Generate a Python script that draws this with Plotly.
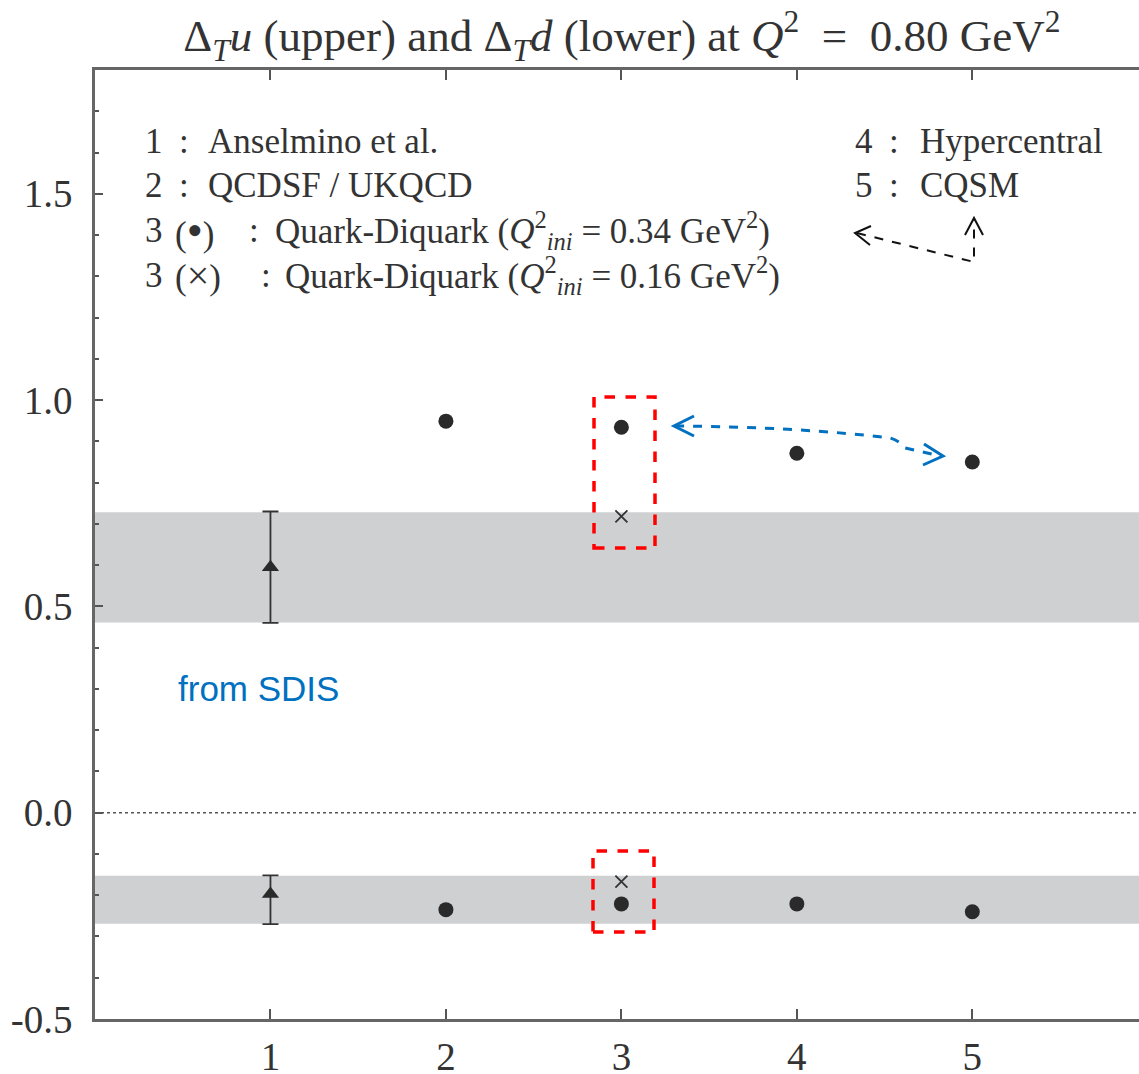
import plotly.graph_objects as go

# ---------------- data ----------------
models = [1, 2, 3, 4, 5]
tick_vals_y = [-0.5, 0.0, 0.5, 1.0, 1.5]
tick_text_y = ["-0.5", "0.0", "0.5", "1.0", "1.5"]

# Anselmino et al. (model 1) with error bars
ans_x = [1, 1]
ans_y = [0.595, -0.197]
ans_err_plus = [0.135, 0.045]
ans_err_minus = [0.135, 0.073]

# band from SDIS extraction
band_upper = [0.461, 0.728]
band_lower = [-0.269, -0.153]

# other models (filled circles)
dot_x_u = [2, 3, 4, 5]
dot_y_u = [0.949, 0.934, 0.871, 0.850]
dot_x_d = [2, 3, 4, 5]
dot_y_d = [-0.235, -0.221, -0.221, -0.240]

# Quark-Diquark with Q2_ini = 0.16 (crosses)
cross_x = [3, 3]
cross_y = [0.718, -0.167]

# ---------------- geometry helpers (for decorations only) ----------------
L, T, W, H = 95, 70, 1044, 949
XR = [0, 5.95]
YR = [-0.5, 1.80]


def px2x(px):
    return XR[0] + (px - L) / W * (XR[1] - XR[0])


def py2y(py):
    return YR[1] - (py - T) / H * (YR[1] - YR[0])


fig = go.Figure()

serif = "Liberation Serif, Times New Roman, serif"
ink = "#2a2a2a"

fig.add_trace(go.Scatter(
    x=ans_x, y=ans_y, mode="markers",
    marker=dict(symbol="triangle-up", size=15, color=ink),
    error_y=dict(type="data", symmetric=False, array=ans_err_plus,
                 arrayminus=ans_err_minus, color="#333", thickness=1.8, width=8),
    showlegend=False))
fig.add_trace(go.Scatter(
    x=dot_x_u, y=dot_y_u, mode="markers",
    marker=dict(symbol="circle", size=15, color=ink), showlegend=False))
fig.add_trace(go.Scatter(
    x=dot_x_d, y=dot_y_d, mode="markers",
    marker=dict(symbol="circle", size=15, color=ink), showlegend=False))
fig.add_trace(go.Scatter(
    x=cross_x, y=cross_y, mode="markers",
    marker=dict(symbol="x-thin", size=12, color=ink,
                line=dict(width=1.8, color="#333")), showlegend=False))

shapes = []
band_col = "#cfd0d2"
for lo, hi in (band_upper, band_lower):
    shapes.append(dict(type="rect", xref="paper", yref="y", x0=0, x1=1, y0=lo, y1=hi,
                       fillcolor=band_col, line=dict(width=0), layer="below"))
shapes.append(dict(type="line", xref="paper", yref="y", x0=0, x1=1, y0=0, y1=0,
                   line=dict(color="#555", width=1.5, dash="dot"), layer="below"))

# red dashed boxes
red = "#ff0000"
for (x0, x1, y0, y1) in [(594, 655, 397, 548), (593, 654, 851, 932)]:
    shapes.append(dict(type="rect", xref="x", yref="y",
                       x0=px2x(x0), x1=px2x(x1), y0=py2y(y1), y1=py2y(y0),
                       line=dict(color=red, width=3.5, dash="dash")))


def path(pts):
    s = ""
    for i, (a, b) in enumerate(pts):
        s += ("M" if i == 0 else "L") + f"{px2x(a)},{py2y(b)} "
    return s.strip()


# blue curved double arrow
blue = "#0070C0"
blue_path = (f"M{px2x(675)},{py2y(426)} "
             f"Q{px2x(800)},{py2y(427)} {px2x(890)},{py2y(438)} "
             f"Q{px2x(900)},{py2y(441)} {px2x(905)},{py2y(448)} "
             f"L{px2x(941)},{py2y(456)}")
shapes.append(dict(type="path", xref="x", yref="y", path=blue_path,
                   line=dict(color=blue, width=3, dash="dash")))
shapes.append(dict(type="path", xref="x", yref="y",
                   path=path([(694, 416), (674, 426), (694, 436)]),
                   line=dict(color=blue, width=3)))
shapes.append(dict(type="path", xref="x", yref="y",
                   path=path([(924, 444), (943, 456), (923, 465)]),
                   line=dict(color=blue, width=3)))

# black dashed arrows
shapes.append(dict(type="path", xref="x", yref="y",
                   path=path([(857, 233), (974, 262), (974, 219)]),
                   line=dict(color="#111", width=2, dash="dash")))
shapes.append(dict(type="path", xref="x", yref="y",
                   path=path([(871, 226), (855, 233), (870, 245)]),
                   line=dict(color="#111", width=2)))
shapes.append(dict(type="path", xref="x", yref="y",
                   path=path([(965, 235), (974, 218), (983, 235)]),
                   line=dict(color="#111", width=2)))

annotations = []
leg_font = dict(family=serif, size=35, color="#333")
NB = "\u00a0"
eq = f"{NB}={NB}"
q34 = f"Quark-Diquark (<i>Q</i><sup>2</sup><sub><i>ini</i></sub>{eq}0.34{NB}GeV<sup>2</sup>)"
q16 = f"Quark-Diquark (<i>Q</i><sup>2</sup><sub><i>ini</i></sub>{eq}0.16{NB}GeV<sup>2</sup>)"
leg_items = [
    (141, [(143, "1"), (177, ":"), (206, "Anselmino et al.")]),
    (185, [(143, "2"), (177, ":"), (206, "QCDSF / UKQCD")]),
    (230, [(143, "3"), (173, "(<span style='font-size:46px'>•</span>)"), (247, ":"), (273, q34)]),
    (275, [(143, "3"), (173, "(<span style='font-size:40px'>×</span>)"), (259, ":"), (283, q16)]),
    (141, [(853, "4"), (887, ":"), (918, "Hypercentral")]),
    (185, [(853, "5"), (887, ":"), (918, "CQSM")]),
]
for py, parts in leg_items:
    for px, txt in parts:
        annotations.append(dict(x=px2x(px), y=py2y(py), xref="x", yref="y", text=txt,
                                showarrow=False, xanchor="left", yanchor="middle",
                                font=leg_font))

annotations.append(dict(x=px2x(176), y=py2y(688), xref="x", yref="y", text="from SDIS",
                        showarrow=False, xanchor="left", yanchor="middle",
                        font=dict(family="Liberation Sans, Arial, sans-serif", size=35,
                                  color=blue)))

title_txt = (f"Δ<sub><i>T</i></sub><i>u</i> (upper) and Δ<sub><i>T</i></sub><i>d</i> "
             f"(lower) at <i>Q</i><sup>2</sup>{NB}{eq}{NB}0.80{NB}GeV<sup>2</sup>")

fig.update_layout(
    width=1139, height=1074,
    margin=dict(l=L, r=0, t=T, b=1074 - T - H, autoexpand=False),
    plot_bgcolor="white", paper_bgcolor="white",
    title=dict(text=title_txt,
               x=0.546, xanchor="center", y=0.967, yanchor="middle",
               font=dict(family=serif, size=45, color="#333")),
    shapes=shapes, annotations=annotations,
    xaxis=dict(range=XR, tickvals=models, ticktext=[str(m) for m in models],
               ticks="inside", ticklen=10, tickwidth=1.5, tickcolor="#555",
               showline=True, linecolor="#666", linewidth=2.5, mirror="ticks",
               showgrid=False, zeroline=False, ticklabelstandoff=1, automargin=False,
               tickfont=dict(family=serif, size=39, color="#333")),
    yaxis=dict(range=YR, tickvals=tick_vals_y, ticktext=tick_text_y,
               ticks="inside", ticklen=8, tickwidth=1.5, tickcolor="#555",
               minor=dict(dtick=0.1, ticks="inside", ticklen=4, tickwidth=1.5,
                          tickcolor="#555", showgrid=False),
               showline=True, linecolor="#666", linewidth=2.5, mirror=False,
               showgrid=False, zeroline=False, ticklabelstandoff=12, automargin=False,
               tickfont=dict(family=serif, size=39, color="#333")),
)

fig.write_html("out.html")
